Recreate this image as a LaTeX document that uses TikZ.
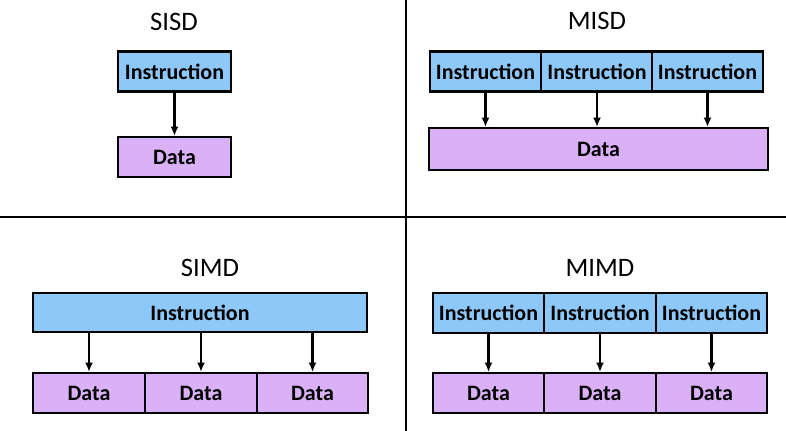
\documentclass[tikz,border=0pt]{standalone}
\usepackage{fontspec}
\setmainfont{Carlito}
\usetikzlibrary{arrows.meta}
\definecolor{instr}{HTML}{8DC8F8}
\definecolor{dat}{HTML}{DAB0F6}

\begin{document}
\begin{tikzpicture}[x=0.75pt, y=-0.75pt, every node/.style={font=\bfseries\fontsize{16.5}{18}\selectfont}]
\tikzset{
  ibox/.style={draw, line width=1.6pt, fill=instr, inner sep=0pt, minimum height=30pt, minimum width=83.5pt},
  dbox/.style={draw, line width=1.6pt, fill=dat, inner sep=0pt, minimum height=30pt, minimum width=83.5pt},
  title/.style={font=\fontsize{20}{22}\selectfont},
  link/.style={line width=1.8pt, -{Latex[length=7pt, width=6pt]}},
}
\useasboundingbox (0,0) rectangle (786,431);
% quadrant dividers
\draw[line width=1.8pt] (406,0) -- (406,431);
\draw[line width=1.8pt] (0,217) -- (786,217);
% SISD
\node[title] (tsisd) at (174,22) {SISD};
\node[ibox, minimum width=85pt] (si) at (174.5,71.5) {Instruction};
\node[dbox, minimum width=85pt] (sd) at (174.5,157) {Data};
\draw[link] (si) -- (sd);
% MISD
\node[title] (tmisd) at (597,21) {MISD};
\node[dbox, minimum width=254pt, minimum height=31.5pt] (md) at (598.5,149) {Data};
\foreach \x/\n in {485.5/1, 597/2, 707.5/3} {
  \node[ibox] (mi\n) at (\x,71.5) {Instruction};
  \draw[link] (mi\n.south) -- (mi\n.south |- md.north);
}
% SIMD
\node[title] (tsimd) at (210,268) {SIMD};
\node[ibox, minimum width=250.5pt, minimum height=29.5pt] (ni) at (200,312.5) {Instruction};
\foreach \x/\n in {89/1, 201/2, 312.5/3} {
  \node[dbox] (nd\n) at (\x,393) {Data};
  \draw[link] (ni.south -| nd\n.north) -- (nd\n.north);
}
% MIMD
\node[title] (tmimd) at (600,268) {MIMD};
\foreach \x/\n in {488.5/1, 600/2, 711.5/3} {
  \node[ibox] (xi\n) at (\x,313) {Instruction};
  \node[dbox] (xd\n) at (\x,393) {Data};
  \draw[link] (xi\n) -- (xd\n);
}
\end{tikzpicture}
\end{document}
